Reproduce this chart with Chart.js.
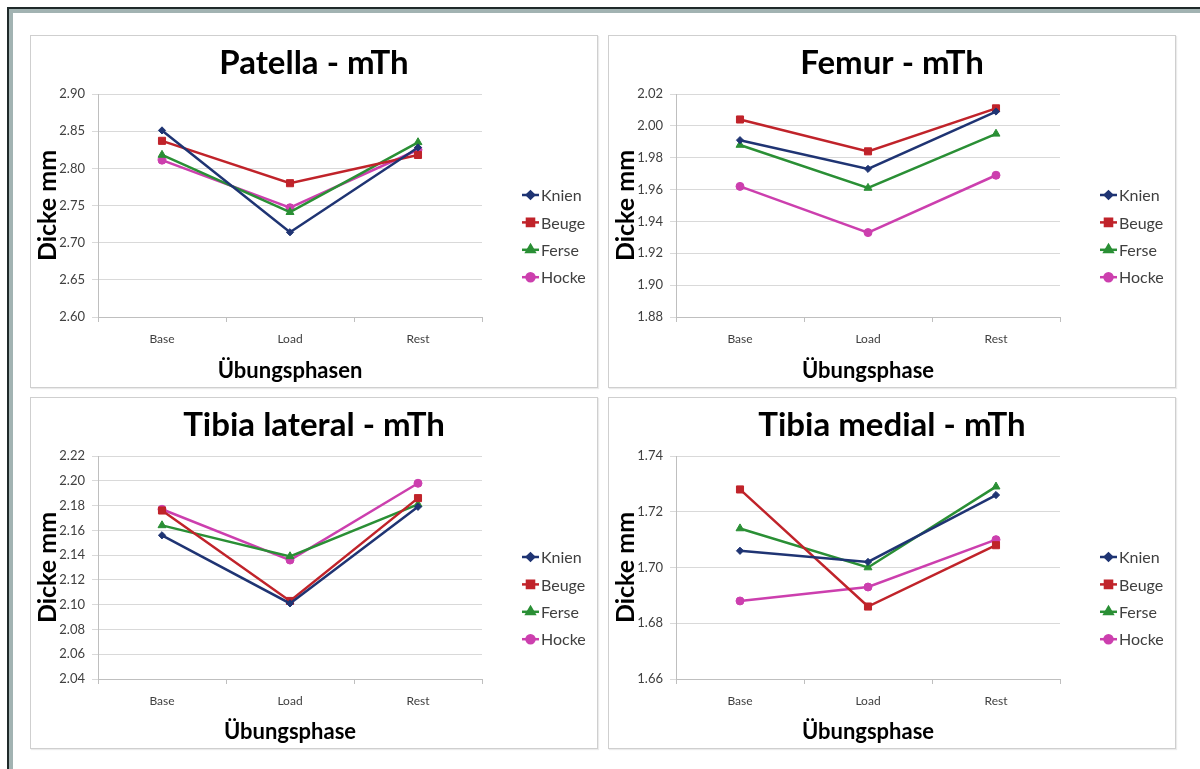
<!DOCTYPE html>
<html>
<head>
<meta charset="utf-8">
<script src="https://cdn.jsdelivr.net/npm/chart.js@4/dist/chart.umd.min.js"></script>
<style>
  html, body { margin: 0; padding: 0; background: #ffffff; }
  body { width: 1200px; height: 769px; position: relative; overflow: hidden; font-family: Lato, "Open Sans", sans-serif; }
  .frame { position: absolute; left: 7px; top: 7px; right: 0; bottom: 0;
           border-top: 2px solid #1f2a2a; border-left: 2px solid #1f2a2a; }
  .band-top { position: absolute; left: 9px; top: 9px; right: 0; height: 4px; background: #a2b3b2; }
  .band-left { position: absolute; left: 9px; top: 9px; bottom: 0; width: 4px; background: #a2b3b2; }
  .panel { position: absolute; box-sizing: border-box; border: 1px solid #cfcfcf; background: #fff;
           box-shadow: 1px 1px 1px rgba(0,0,0,0.08); }
  .panel canvas { position: absolute; left: 0; top: 0; }
</style>
</head>
<body>
<div class="frame"></div>
<div class="band-top"></div>
<div class="band-left"></div>

<div class="panel" style="left:30px; top:35px; width:568px; height:353px;"><canvas id="c1" width="566" height="351"></canvas></div>
<div class="panel" style="left:608px; top:35px; width:568px; height:353px;"><canvas id="c2" width="566" height="351"></canvas></div>
<div class="panel" style="left:30px; top:397px; width:568px; height:352px;"><canvas id="c3" width="566" height="350"></canvas></div>
<div class="panel" style="left:608px; top:397px; width:568px; height:352px;"><canvas id="c4" width="566" height="350"></canvas></div>

<script>
// Exercise phases and measurement positions
const categories = ['Base', 'Load', 'Rest'];
const seriesNames = ['Knien', 'Beuge', 'Ferse', 'Hocke'];

// Patella cartilage thickness (mm)
const patellaKnien = [2.851, 2.714, 2.828];
const patellaBeuge = [2.837, 2.780, 2.818];
const patellaFerse = [2.818, 2.741, 2.835];
const patellaHocke = [2.811, 2.747, 2.825];

// Femur cartilage thickness (mm)
const femurKnien = [1.991, 1.973, 2.009];
const femurBeuge = [2.004, 1.984, 2.011];
const femurFerse = [1.988, 1.961, 1.995];
const femurHocke = [1.962, 1.933, 1.969];

// Tibia lateral cartilage thickness (mm)
const tibLatKnien = [2.156, 2.101, 2.179];
const tibLatBeuge = [2.176, 2.103, 2.186];
const tibLatFerse = [2.164, 2.139, 2.181];
const tibLatHocke = [2.177, 2.136, 2.198];

// Tibia medial cartilage thickness (mm)
const tibMedKnien = [1.706, 1.702, 1.726];
const tibMedBeuge = [1.728, 1.686, 1.708];
const tibMedFerse = [1.714, 1.700, 1.729];
const tibMedHocke = [1.688, 1.693, 1.710];

// Panel texts and axis ranges
const panelTitles = ['Patella - mTh', 'Femur - mTh', 'Tibia lateral - mTh', 'Tibia medial - mTh'];
const xTitles = ['Übungsphasen', 'Übungsphase', 'Übungsphase', 'Übungsphase'];
const yTitle = 'Dicke mm';
const yMin = [2.60, 1.88, 2.04, 1.66];
const yMax = [2.90, 2.02, 2.22, 1.74];
const yStep = [0.05, 0.02, 0.02, 0.02];

const panelSeries = [
  [patellaKnien, patellaBeuge, patellaFerse, patellaHocke],
  [femurKnien, femurBeuge, femurFerse, femurHocke],
  [tibLatKnien, tibLatBeuge, tibLatFerse, tibLatHocke],
  [tibMedKnien, tibMedBeuge, tibMedFerse, tibMedHocke]
];

// Series styling
const seriesColors = ['#1f3473', '#c0232a', '#2a8f35', '#cc3fae'];
const seriesPoints = ['rectRot', 'rect', 'triangle', 'circle'];
const seriesRadius = [3.6, 5, 4.6, 4];

const FONT = 'Lato, "Open Sans", sans-serif';

// Vertical axis title, centred on the plot area
const yTitlePlugin = {
  id: 'yTitle',
  afterDraw(chart) {
    const ctx = chart.ctx;
    const a = chart.chartArea;
    ctx.save();
    ctx.translate(17, (a.top + a.bottom) / 2);
    ctx.rotate(-Math.PI / 2);
    ctx.font = 'bold 25px ' + FONT;
    ctx.fillStyle = '#000';
    ctx.textAlign = 'center';
    ctx.textBaseline = 'middle';
    ctx.fillText(yTitle, 0, 0);
    ctx.restore();
  }
};

// Legend on the right: short line with the series marker, then its name
const sideLegend = {
  id: 'sideLegend',
  afterDraw(chart) {
    const ctx = chart.ctx;
    const x0 = 491, y0 = 159, step = 27.4;
    chart.data.datasets.forEach((ds, i) => {
      const y = y0 + i * step;
      ctx.save();
      ctx.strokeStyle = ds.borderColor;
      ctx.lineWidth = 2.5;
      ctx.beginPath();
      ctx.moveTo(x0, y);
      ctx.lineTo(x0 + 17, y);
      ctx.stroke();
      ctx.fillStyle = ds.backgroundColor;
      ctx.strokeStyle = ds.borderColor;
      Chart.helpers.drawPoint(ctx, {
        pointStyle: ds.pointStyle, radius: ds.pointRadius, rotation: 0, borderWidth: 1
      }, x0 + 8.5, y);
      ctx.fillStyle = '#404040';
      ctx.font = '16px ' + FONT;
      ctx.textAlign = 'left';
      ctx.textBaseline = 'middle';
      ctx.fillText(ds.label, x0 + 19, y + 1);
      ctx.restore();
    });
  }
};

function makeChart(id, p, canvasH) {
  const datasets = seriesNames.map((name, i) => ({
    label: name,
    data: panelSeries[p][i],
    borderColor: seriesColors[i],
    backgroundColor: seriesColors[i],
    borderWidth: 2.5,
    pointStyle: seriesPoints[i],
    pointRadius: seriesRadius[i],
    pointBorderWidth: 1,
    tension: 0,
    yAxisID: 'y'
  }));
  return new Chart(document.getElementById(id), {
    type: 'line',
    data: { labels: categories, datasets },
    options: {
      responsive: false,
      animation: false,
      layout: { padding: 0 },
      plugins: {
        legend: { display: false },
        tooltip: { enabled: false },
        title: {
          display: true,
          text: panelTitles[p],
          color: '#000',
          font: { family: FONT, size: 33, weight: 'bold', lineHeight: 1.2 },
          padding: { top: 8, bottom: 10.4 }
        }
      },
      scales: {
        x: {
          offset: true,
          grid: { offset: true, drawOnChartArea: false, drawTicks: true, tickLength: 5, color: '#bfbfbf' },
          border: { color: '#bfbfbf', width: 1 },
          ticks: { color: '#404040', font: { family: FONT, size: 12 }, padding: 10, maxRotation: 0 },
          title: {
            display: true, text: xTitles[p], color: '#000',
            font: { family: FONT, size: 22, weight: 'bold', lineHeight: 1.2 },
            padding: { top: 0, bottom: 3 }
          },
          afterFit(scale) { scale.height = canvasH - 281; }
        },
        y: {
          min: yMin[p], max: yMax[p],
          grid: { color: '#d9d9d9', drawTicks: true, tickLength: 6 },
          border: { color: '#bfbfbf', width: 1 },
          ticks: {
            stepSize: yStep[p], color: '#404040', padding: 7,
            font: { family: FONT, size: 13 },
            callback: v => Number(v).toFixed(2)
          },
          afterFit(scale) { scale.width = 67; }
        },
        // empty right-hand axis that keeps room for the legend
        legendSpace: {
          type: 'linear', position: 'right',
          grid: { display: false, drawTicks: false },
          border: { display: false },
          ticks: { display: false },
          afterFit(scale) { scale.width = 115; }
        }
      }
    },
    plugins: [yTitlePlugin, sideLegend]
  });
}

makeChart('c1', 0, 351);
makeChart('c2', 1, 351);
makeChart('c3', 2, 350);
makeChart('c4', 3, 350);
</script>
</body>
</html>
